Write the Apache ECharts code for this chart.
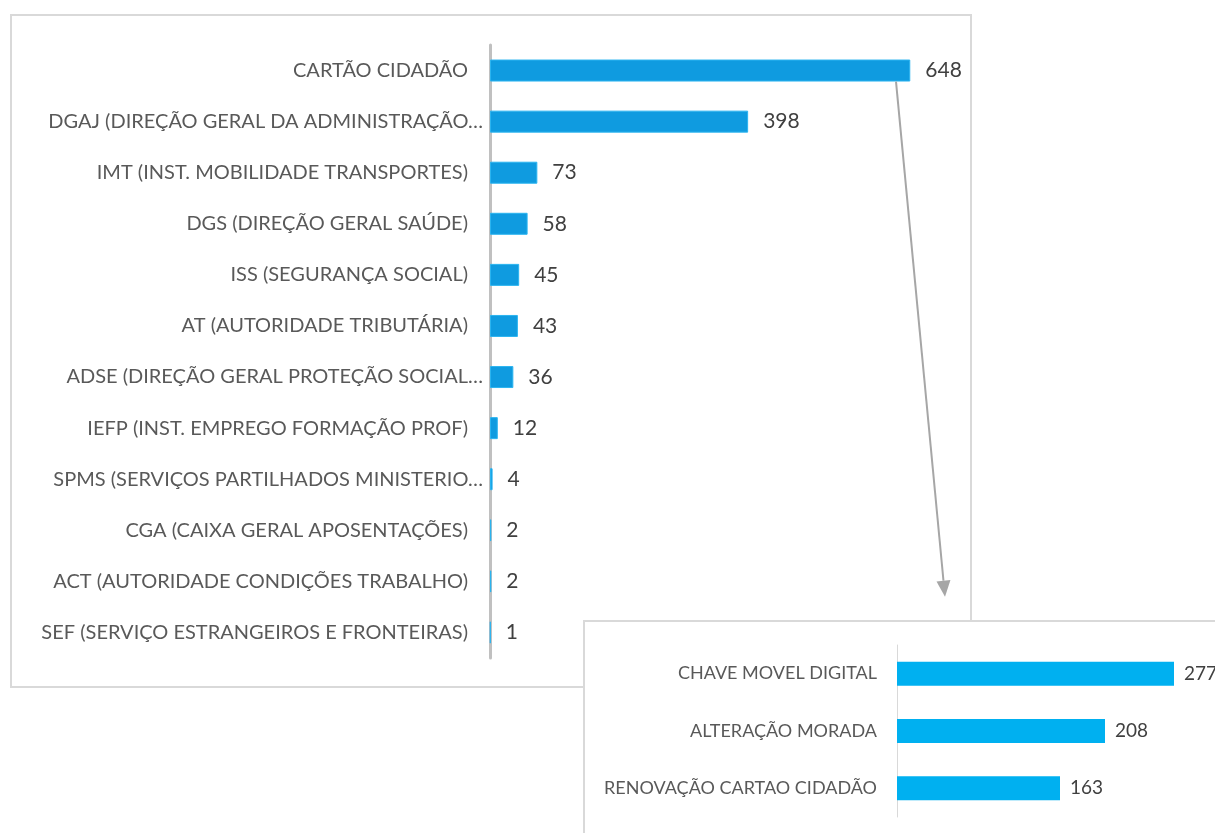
<!DOCTYPE html>
<html>
<head>
<meta charset="utf-8">
<script src="https://cdn.jsdelivr.net/npm/echarts@6/dist/echarts.min.js"></script>
<style>html,body{margin:0;padding:0;background:#fff;}#c{width:1215px;height:833px;}</style>
</head>
<body>
<div id="c"></div>
<script>
const mainCategories = [
  'CARTÃO CIDADÃO',
  'DGAJ (DIREÇÃO GERAL DA ADMINISTRAÇÃO…',
  'IMT (INST. MOBILIDADE TRANSPORTES)',
  'DGS (DIREÇÃO GERAL SAÚDE)',
  'ISS (SEGURANÇA SOCIAL)',
  'AT (AUTORIDADE TRIBUTÁRIA)',
  'ADSE (DIREÇÃO GERAL PROTEÇÃO SOCIAL…',
  'IEFP (INST. EMPREGO FORMAÇÃO PROF)',
  'SPMS (SERVIÇOS PARTILHADOS MINISTERIO…',
  'CGA (CAIXA GERAL APOSENTAÇÕES)',
  'ACT (AUTORIDADE CONDIÇÕES TRABALHO)',
  'SEF (SERVIÇO ESTRANGEIROS E FRONTEIRAS)'
];
const mainValues = [648, 398, 73, 58, 45, 43, 36, 12, 4, 2, 2, 1];

const detailCategories = ['CHAVE MOVEL DIGITAL', 'ALTERAÇÃO MORADA', 'RENOVAÇÃO CARTAO CIDADÃO'];
const detailValues = [277, 208, 163];

const FONT = 'Lato';
const chart = echarts.init(document.getElementById('c'), null, {renderer: 'canvas'});

function catLabel(v) {
  return v.endsWith('…') ? '{e|' + v + '}' : '{n|' + v + '}';
}

const panels = [
  {type: 'rect', z: -10, shape: {x: 11, y: 15, width: 960, height: 672}, style: {fill: '#fff', stroke: '#d9d9d9', lineWidth: 2}},
  {type: 'rect', z: -5, shape: {x: 584, y: 621, width: 700, height: 300}, style: {fill: '#fff', stroke: '#d9d9d9', lineWidth: 2}}
];

const option = {
  animation: false,
  grid: [
    {left: 490, top: 45, height: 613, width: 454},
    {left: 897, top: 645, height: 172, width: 300}
  ],
  xAxis: [
    {gridIndex: 0, type: 'value', min: 0, max: 700, show: false},
    {gridIndex: 1, type: 'value', min: 0, max: 300, show: false}
  ],
  yAxis: [
    {
      gridIndex: 0, type: 'category', inverse: true, data: mainCategories,
      axisLine: {show: true, lineStyle: {color: '#c0c0c0', width: 3}},
      axisTick: {show: false},
      axisLabel: {
        margin: 7, fontFamily: FONT, fontSize: 20, color: '#595959',
        formatter: catLabel,
        rich: {
          n: {fontFamily: FONT, fontSize: 20, color: '#595959', padding: [0, 15, 0, 0]},
          e: {fontFamily: FONT, fontSize: 20, color: '#595959'}
        }
      },
      z: 3
    },
    {
      gridIndex: 1, type: 'category', inverse: true, data: detailCategories,
      axisLine: {show: true, lineStyle: {color: '#d9d9d9', width: 1}},
      axisTick: {show: false},
      axisLabel: {margin: 20, fontFamily: FONT, fontSize: 18, color: '#595959'},
      z: 3
    }
  ],
  series: [
    {
      type: 'bar', xAxisIndex: 0, yAxisIndex: 0, data: mainValues, barWidth: 22,
      itemStyle: {color: '#0f9be0', borderColor: '#2bb4f0', borderWidth: 1},
      label: {show: true, position: 'right', distance: 15, fontFamily: FONT, fontSize: 21, color: '#404040'},
      z: 4
    },
    {
      type: 'bar', xAxisIndex: 1, yAxisIndex: 1, data: detailValues, barWidth: 24,
      itemStyle: {color: '#00b0f0'},
      label: {show: true, position: 'right', distance: 10, fontFamily: FONT, fontSize: 19, color: '#404040'},
      z: 4
    }
  ],
  graphic: panels
};
chart.setOption(option);

// arrow from first bar end toward the detail panel
const start = chart.convertToPixel({xAxisIndex: 0, yAxisIndex: 0}, [626, mainCategories[0]]);
const detailTop = chart.convertToPixel({xAxisIndex: 1, yAxisIndex: 1}, [48, detailCategories[0]]);
const sx = start[0], sy = start[1] + 11;
const ex = 945, ey = detailTop[1] - 77;
const ang = Math.atan2(ey - sy, ex - sx);
const L = 16, Wd = 7;
const bx = ex - L * Math.cos(ang), by = ey - L * Math.sin(ang);
chart.setOption({
  graphic: panels.concat([
    {type: 'line', z: 10, shape: {x1: sx, y1: sy, x2: bx, y2: by}, style: {stroke: '#a6a6a6', lineWidth: 2}},
    {type: 'polygon', z: 10, shape: {points: [
      [ex, ey],
      [bx + Wd * Math.sin(ang), by - Wd * Math.cos(ang)],
      [bx - Wd * Math.sin(ang), by + Wd * Math.cos(ang)]
    ]}, style: {fill: '#a6a6a6'}}
  ])
});
</script>
</body>
</html>
